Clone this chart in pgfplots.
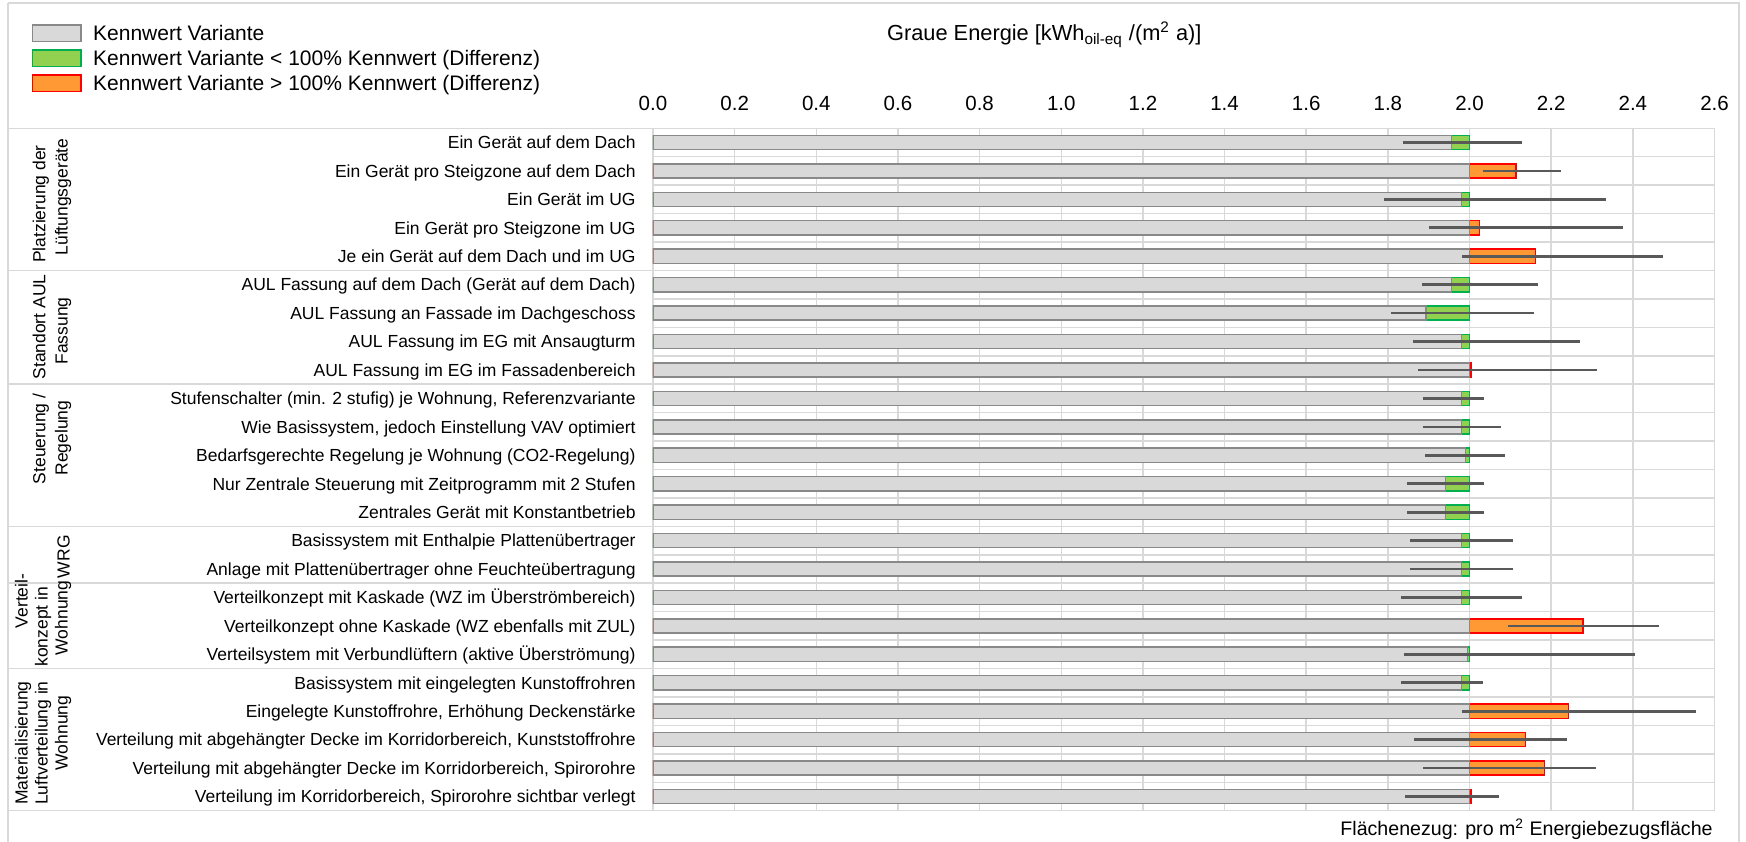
\documentclass[border=0pt]{standalone}
\usepackage{pgfplots}
\pgfplotsset{compat=1.18}
\usepackage{pgfplotstable}
\usepackage{fontspec}
\setmainfont{Liberation Sans}
\definecolor{gridgrey}{HTML}{D9D9D9}
\definecolor{barfill}{HTML}{D9D9D9}
\definecolor{baredge}{HTML}{898989}
\definecolor{greenfill}{HTML}{92D050}
\definecolor{greenedge}{HTML}{00B050}
\definecolor{orangefill}{HTML}{FF9933}
\definecolor{orangeedge}{HTML}{FF0000}
\definecolor{errgrey}{HTML}{595959}

% y: row, grey: grey bar end, green: green bar end (value below 100%), orange: orange bar end (value above 100%), v: value, lo/hi: range
\pgfplotstableread{
y grey  green orange v     lo    hi
1 1.956 2     nan    1.956 1.838 2.129
2 2     nan   2.114  2.114 2.033 2.224
3 1.980 2     nan    1.980 1.790 2.334
4 2     nan   2.025  2.025 1.900 2.376
5 2     nan   2.162  2.162 1.982 2.475
6 1.956 2     nan    1.956 1.884 2.167
7 1.893 2     nan    1.893 1.808 2.157
8 1.980 2     nan    1.980 1.862 2.270
9 2     nan   2.004  2.004 1.873 2.311
10 1.980 2    nan    1.980 1.886 2.035
11 1.980 2    nan    1.980 1.886 2.076
12 1.990 2    nan    1.990 1.892 2.087
13 1.941 2    nan    1.941 1.847 2.036
14 1.941 2    nan    1.941 1.847 2.036
15 1.980 2    nan    1.980 1.853 2.106
16 1.980 2    nan    1.980 1.853 2.106
17 1.980 2    nan    1.980 1.832 2.128
18 2     nan  2.278  2.278 2.093 2.464
19 1.995 2    nan    1.995 1.840 2.406
20 1.980 2    nan    1.980 1.832 2.033
21 2     nan  2.242  2.242 1.982 2.554
22 2     nan  2.137  2.137 1.864 2.238
23 2     nan  2.184  2.184 1.887 2.310
24 2     nan  2.004  2.004 1.843 2.071
}\data

\begin{document}
\begin{tikzpicture}
\begin{axis}[
  scale only axis,
  width=530.75pt, height=341.2pt,
  at={(326.5pt,-405.35pt)}, anchor=south west,
  xmin=0, xmax=2.6, ymin=0.5, ymax=24.5,
  y dir=reverse,
  xtick={0,0.2,...,2.6},
  xticklabel pos=right,
  x tick label style={font=\fontsize{10.25}{12}\selectfont, anchor=base, yshift=8.8pt,
    /pgf/number format/fixed, /pgf/number format/fixed zerofill,
    /pgf/number format/precision=1, /pgf/number format/assume math mode=true},
  ytick={1,...,24},
  yticklabels={
    Ein Gerät auf dem Dach,
    Ein Gerät pro Steigzone auf dem Dach,
    Ein Gerät im UG,
    Ein Gerät pro Steigzone im UG,
    Je ein Gerät auf dem Dach und im UG,
    AUL Fassung auf dem Dach (Gerät auf dem Dach),
    AUL Fassung an Fassade im Dachgeschoss,
    AUL Fassung im EG  mit Ansaugturm,
    AUL Fassung im EG im Fassadenbereich,
    {Stufenschalter (min. 2 stufig) je Wohnung, Referenzvariante},
    {Wie Basissystem, jedoch Einstellung VAV optimiert},
    Bedarfsgerechte Regelung je Wohnung (CO2-Regelung),
    Nur Zentrale Steuerung mit Zeitprogramm mit 2 Stufen,
    Zentrales Gerät mit Konstantbetrieb,
    Basissystem mit Enthalpie Plattenübertrager,
    Anlage mit Plattenübertrager ohne Feuchteübertragung,
    Verteilkonzept mit Kaskade (WZ im Überströmbereich),
    Verteilkonzept ohne Kaskade (WZ ebenfalls mit ZUL),
    Verteilsystem mit Verbundlüftern (aktive Überströmung),
    Basissystem mit eingelegten Kunstoffrohren,
    {Eingelegte Kunstoffrohre, Erhöhung Deckenstärke},
    {Verteilung mit abgehängter Decke im Korridorbereich, Kunststoffrohre},
    {Verteilung mit abgehängter Decke im Korridorbereich, Spirorohre},
    {Verteilung im Korridorbereich, Spirorohre sichtbar verlegt}},
  y tick label style={font=\fontsize{8.75}{10}\selectfont, anchor=east, inner sep=0pt,
    text height=6.27pt, text depth=0pt, xshift=-8.5pt},
  minor ytick={0.5,1.5,...,24.5},
  major tick length=0pt, minor tick length=0pt,
  xmajorgrids, yminorgrids,
  grid style={gridgrey, line width=0.75pt},
  minor grid style={gridgrey, line width=0.75pt},
  axis line style={gridgrey, line width=0.75pt},
  reverse legend,
  legend style={at={(axis description cs:-0.5853,1.15446)}, anchor=north west,
    draw=none, fill=none, inner sep=0pt, outer sep=0pt,
    row sep=2.1pt, column sep=5.85pt,
    font=\fontsize{10.5}{12}\selectfont,
    nodes={inner sep=0pt, text height=8.9pt, text depth=1.5pt}},
  legend cell align=left,
  legend image code/.code={\draw[#1] (0pt,-4.175pt) rectangle (24.15pt,4.175pt);},
]
\addplot[xbar, bar width=0.5, bar shift=0pt, fill=orangefill, draw=orangeedge, line width=0.75pt]
  table[x=orange, y=y] {\data};
\addlegendentry{Kennwert Variante > 100\% Kennwert (Differenz)}
\addplot[xbar, bar width=0.5, bar shift=0pt, fill=greenfill, draw=greenedge, line width=0.75pt]
  table[x=green, y=y] {\data};
\addlegendentry{Kennwert Variante < 100\% Kennwert (Differenz)}
\addplot[xbar, bar width=0.5, bar shift=0pt, fill=barfill, draw=baredge, line width=0.75pt]
  table[x=grey, y=y] {\data};
\addlegendentry{Kennwert Variante}
\addplot[forget plot, draw=none, no markers,
  error bars/.cd, x dir=both, x explicit, error mark=none,
  error bar style={draw=errgrey, line width=1.35pt}]
  table[x=v, y=y, x error plus expr=\thisrow{hi}-\thisrow{v}, x error minus expr=\thisrow{v}-\thisrow{lo}] {\data};
\end{axis}

\begin{scope}[x=0.5pt, y=-0.5pt]
  % outer frame
  \draw[gridgrey, line width=0.75pt] (8,3) -- (8,845) (1739,845) -- (1739,3) -- (8,3);
  % group separators
  \foreach \yy in {128.3,270.5,384.2,526.3,583.2,668.5,810.7}
    \draw[gridgrey, line width=0.75pt] (8,\yy) -- (653,\yy);
  % group labels
  \begin{scope}[every node/.style={rotate=90, anchor=base, inner sep=0pt, font=\fontsize{8.75}{10}\selectfont}]
    \node at (45.5,204) {Platzierung der};
    \node at (67.5,197) {Lüftungsgeräte};
    \node at (45.5,327) {Standort AUL};
    \node at (67.5,331) {Fassung};
    \node at (45.5,439) {Steuerung /};
    \node at (67.5,438) {Regelung};
    \node at (69.5,556.7) {WRG};
    \node at (27.5,601) {Verteil-};
    \node at (47.5,626.7) {konzept in};
    \node at (67.5,618) {Wohnung};
    \node at (27.5,743) {Materialisierung};
    \node at (47.5,743) {Luftverteilung in};
    \node at (67.5,733) {Wohnung};
  \end{scope}
  % title
  \node[anchor=base west, inner sep=0pt, font=\fontsize{10.9}{12}\selectfont] at (886.7,40.7)
    {Graue Energie [kWh\textsubscript{oil-eq} /(m\textsuperscript{2} a)]};
  % footer
  \node[anchor=base east, inner sep=0pt, font=\fontsize{9.8}{11}\selectfont] at (1713,835.7)
    {Flächenezug: pro m\textsuperscript{2} Energiebezugsfläche};
  \pgfresetboundingbox
  \useasboundingbox (0,0) rectangle (1746,841);
\end{scope}
\end{tikzpicture}
\end{document}
